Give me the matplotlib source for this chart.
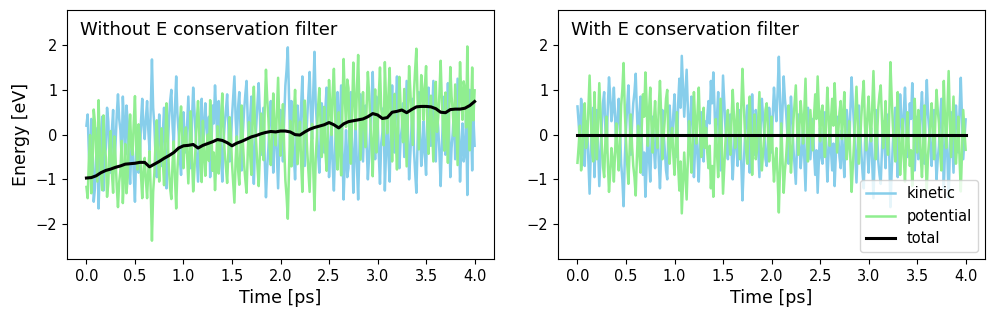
import numpy as np
import matplotlib
matplotlib.use('Agg')
import matplotlib.pyplot as plt

# time grid of the noisy traces (ps) and of the total energy trace
time = np.linspace(0.0, 4.0, 321)
time_total = np.linspace(0.0, 4.0, 81)

# Without E conservation filter
kinetic_raw = [
    0.20, 0.45, -0.40, -0.95, 0.35, -0.20, -1.50, -1.20, -0.55, 0.15, -1.65, -0.70, 0.05, 0.40, -1.25, -0.55,
    -0.30, 0.60, 0.30, -0.45, -0.85, 0.10, 0.55, -0.70, -0.20, 0.45, 0.90, 0.35, 0.10, -0.55, 0.85, 0.25,
    -0.45, 0.65, 0.30, -0.60, -1.10, -0.35, -0.20, -0.90, -1.50, -0.40, 0.15, -0.85, -0.60, 0.30, 0.80, 0.20,
    -0.10, 0.35, 0.75, 0.10, -0.35, 0.55, 1.68, 0.60, 0.20, -0.50, -0.95, -0.15, 0.45, -0.25, -0.70, 0.05,
    0.60, -0.35, -1.20, -0.40, 0.30, 0.75, 1.00, 0.20, -0.25, 0.60, 1.30, 0.45, 0.05, -0.55, -0.90, -0.20,
    0.50, -0.15, -0.40, 0.25, 0.85, 0.10, -0.75, 0.30, 1.05, 0.55, 0.00, -0.60, -1.05, -0.35, 0.40, 0.80,
    -0.55, 0.20, 0.70, 0.15, -0.20, 0.40, -0.95, -0.30, 0.65, 0.25, 1.10, 0.50, -0.30, 0.75, 0.45, -0.50,
    -1.05, -0.20, 0.25, 0.55, 0.90, 0.20, -0.60, -0.25, 0.40, 0.85, 1.30, 0.35, -0.15, 0.60, 0.95, 0.15,
    -0.80, 0.05, 0.55, 0.90, 1.20, 0.30, -0.35, 0.40, 0.85, -0.40, -1.10, -0.25, 0.20, 0.70, 1.15, 0.45,
    -0.45, 0.30, 0.60, -0.55, -1.40, -0.75, -0.30, 0.35, 0.75, 0.10, -0.85, -0.10, 0.30, -0.45, -1.20, -0.20,
    0.55, 0.05, -0.60, 0.35, 1.10, 1.45, 1.95, 0.80, -0.25, 0.75, 0.40, -0.45, -1.00, -0.20, 0.65, 0.15,
    -0.30, 0.65, 1.30, 0.20, -0.70, -0.15, 0.45, 0.90, 1.40, 0.50, -0.10, 0.95, 1.85, 0.70, 0.20, -0.45,
    -0.85, -0.10, 0.70, 0.25, -0.40, 0.60, 1.05, 0.15, -0.95, -0.40, 0.25, -0.70, -1.25, -0.30, 0.50, 0.95,
    -0.35, 0.45, 1.10, -0.30, -1.45, -0.60, 0.10, -0.95, -0.75, 0.40, 0.95, -0.20, -1.30, -0.45, 0.20, -0.70,
    -1.45, -0.35, 0.90, 0.15, -0.60, 0.20, 0.65, -0.25, -1.00, -0.50, 0.10, 0.70, 1.40, 0.30, -0.55, 0.85,
    0.40, -0.45, -1.10, -0.20, 0.05, 0.60, -1.25, -0.35, 0.35, -0.50, -1.05, 0.25, 1.10, 0.15, -0.40, 0.55,
    1.30, 0.25, -0.75, -0.10, 0.15, 0.70, -0.50, 0.35, 1.20, 0.05, -1.00, -0.45, 0.20, 0.80, -0.35, -0.85,
    -1.30, -0.20, 0.95, 0.10, -0.70, -0.35, 0.30, -0.45, -0.90, 0.40, 1.05, 0.30, -0.25, 0.45, 1.20, 0.20,
    -0.60, 0.50, 0.15, -0.40, -1.15, -0.25, 0.40, 0.85, -0.45, 0.30, 1.15, 0.10, -0.95, -0.30, 0.05, 0.60,
    -0.55, 0.35, 1.25, 0.10, -1.05, -0.30, 0.25, -0.60, -0.40, 0.45, -1.35, 0.20, 1.00, 0.25, -0.80, 0.40,
    -0.25,
]
potential_raw = [
    -1.17, -1.42, -0.57, -0.01, -1.31, -0.75, 0.56, 0.27, -0.37, -1.05, 0.77, -0.17, -0.90, -1.24, 0.43, -0.26,
    -0.50, -1.39, -1.09, -0.33, 0.08, -0.86, -1.30, -0.04, -0.53, -1.17, -1.62, -1.06, -0.80, -0.14, -1.53, -0.92,
    -0.21, -1.31, -0.96, -0.05, 0.45, -0.30, -0.45, 0.26, 0.86, -0.24, -0.78, 0.23, -0.02, -0.92, -1.42, -0.82,
    -0.52, -1.00, -1.42, -0.80, -0.37, -1.26, -2.37, -1.28, -0.86, -0.15, 0.32, -0.47, -1.05, -0.33, 0.14, -0.60,
    -1.13, -0.17, 0.70, -0.09, -0.77, -1.20, -1.44, -0.62, -0.15, -0.98, -1.65, -0.78, -0.35, 0.26, 0.63, -0.06,
    -0.75, -0.10, 0.16, -0.49, -1.09, -0.34, 0.52, -0.53, -1.27, -0.79, -0.26, 0.32, 0.75, 0.07, -0.67, -1.06,
    0.31, -0.43, -0.92, -0.36, 0.00, -0.59, 0.77, 0.13, -0.81, -0.40, -1.24, -0.62, 0.19, -0.87, -0.57, 0.38,
    0.92, 0.06, -0.41, -0.72, -1.08, -0.40, 0.39, 0.02, -0.65, -1.09, -1.52, -0.56, -0.04, -0.78, -1.12, -0.31,
    0.65, -0.19, -0.68, -1.01, -1.30, -0.39, 0.28, -0.46, -0.90, 0.36, 1.07, 0.22, -0.22, -0.71, -1.15, -0.44,
    0.47, -0.27, -0.57, 0.59, 1.45, 0.81, 0.36, -0.29, -0.68, -0.03, 0.92, 0.16, -0.24, 0.52, 1.27, 0.28,
    -0.47, 0.03, 0.68, -0.27, -1.02, -1.38, -1.88, -0.74, 0.31, -0.71, -0.37, 0.47, 1.00, 0.20, -0.66, -0.16,
    0.29, -0.64, -1.28, -0.16, 0.76, 0.23, -0.36, -0.80, -1.28, -0.37, 0.24, -0.80, -1.69, -0.53, -0.03, 0.63,
    1.04, 0.30, -0.50, -0.04, 0.62, -0.37, -0.81, 0.11, 1.22, 0.66, -0.01, 0.93, 1.47, 0.50, -0.32, -0.78,
    0.50, -0.28, -0.91, 0.52, 1.69, 0.85, 0.17, 1.23, 1.04, -0.11, -0.65, 0.51, 1.61, 0.77, 0.12, 1.03,
    1.78, 0.69, -0.56, 0.20, 0.95, 0.16, -0.28, 0.64, 1.40, 0.92, 0.34, -0.25, -0.93, 0.16, 1.01, -0.40,
    0.04, 0.87, 1.50, 0.58, 0.31, -0.24, 1.62, 0.73, 0.03, 0.91, 1.49, 0.22, -0.60, 0.36, 0.91, -0.04,
    -0.78, 0.28, 1.29, 0.64, 0.40, -0.17, 1.02, 0.16, -0.71, 0.46, 1.53, 0.99, 0.36, -0.23, 0.94, 1.46,
    1.92, 0.82, -0.33, 0.53, 1.33, 0.98, 0.33, 1.08, 1.53, 0.23, -0.43, 0.32, 0.87, 0.16, -0.60, 0.39,
    1.18, 0.06, 0.39, 0.92, 1.65, 0.75, 0.10, -0.36, 0.94, 0.21, -0.63, 0.44, 1.51, 0.86, 0.52, -0.03,
    1.12, 0.22, -0.68, 0.47, 1.62, 0.88, 0.33, 1.19, 0.99, 0.16, 1.97, 0.44, -0.35, 0.42, 1.50, 0.32,
    0.99,
]
total_raw = [
    -0.97, -0.96, -0.92, -0.85, -0.80, -0.77, -0.73, -0.70, -0.66, -0.65,
    -0.64, -0.62, -0.62, -0.72, -0.66, -0.60, -0.53, -0.47, -0.40, -0.30,
    -0.25, -0.24, -0.22, -0.30, -0.24, -0.20, -0.16, -0.11, -0.13, -0.18,
    -0.25, -0.19, -0.15, -0.10, -0.05, -0.02, 0.02, 0.05, 0.07, 0.06,
    0.08, 0.08, 0.06, 0.00, -0.01, 0.06, 0.12, 0.16, 0.19, 0.22,
    0.27, 0.22, 0.15, 0.24, 0.29, 0.31, 0.33, 0.35, 0.40, 0.47,
    0.44, 0.36, 0.38, 0.50, 0.52, 0.55, 0.49, 0.56, 0.62, 0.63,
    0.63, 0.62, 0.58, 0.50, 0.49, 0.56, 0.57, 0.57, 0.59, 0.65,
    0.74,
]

# With E conservation filter
kinetic_filt = [
    0.63, 0.25, -0.20, 0.80, 0.45, -0.35, -0.70, 0.30, 0.15, -0.60, -1.32, -0.40, 0.35, 0.60, -0.95, -0.10,
    0.55, -0.30, -1.15, -0.45, 0.20, 0.70, 0.95, 0.15, -0.40, 0.60, 1.28, 0.85, 0.30, 0.55, 1.05, 0.40,
    -0.25, 0.35, 0.80, 0.20, -0.65, -1.00, -1.60, -0.55, 0.10, 0.65, 1.10, 0.30, -0.45, 0.25, 0.70, 0.95,
    1.36, 0.50, -0.20, 0.45, 0.85, -0.15, -0.90, -0.40, -1.39, -0.70, 0.25, -0.55, -1.05, -0.20, 0.40, -0.30,
    -0.75, -0.10, 0.30, -0.60, -1.20, -0.45, 0.55, 0.05, -0.35, -0.80, -1.00, 0.20, 0.65, 0.10, -0.15, 0.45,
    0.90, 0.20, -0.50, 0.70, 1.25, 0.60, 1.76, 1.05, 0.40, 0.95, 1.45, 0.55, -0.30, 0.35, 0.85, 0.15,
    -0.95, -0.30, 0.20, -0.50, -1.05, -0.20, 0.50, 0.05, -0.60, 0.30, -0.15, 0.40, 0.75, 0.25, 1.20, 0.70,
    1.39, 0.60, -0.35, 0.40, 0.95, 0.10, -0.80, 0.30, 1.32, 0.75, 0.15, -0.25, -0.55, 0.10, 0.45, -0.35,
    -1.00, -0.40, 0.30, -0.25, -0.70, 0.05, 0.55, -0.60, -1.47, -0.75, -0.10, 0.35, 0.65, -0.20, -0.85, 0.05,
    0.90, 0.15, -0.45, 0.55, 0.35, -0.30, -0.95, 0.20, 0.80, 0.40, 0.05, -0.55, -0.70, -0.15, 0.60, 0.25,
    -0.40, 0.45, 1.05, 0.60, 0.30, 0.95, 1.74, 0.70, -0.25, 0.55, 1.30, 0.80, 0.50, 0.05, -0.65, 0.20,
    0.85, 0.35, -0.30, -0.70, -1.10, -0.25, 0.45, -0.20, -0.75, -0.40, 0.20, -0.55, -1.25, -0.15, 0.60, -0.05,
    -0.55, -0.10, 0.35, -0.40, -0.90, -0.35, -1.30, -0.60, 0.15, -0.50, -0.65, 0.05, 0.50, -0.30, -1.05, -0.45,
    0.25, -0.35, -0.80, -0.20, -1.15, -0.45, 0.40, -0.05, -0.50, -0.75, 0.10, -0.40, -0.95, 0.05, 0.55, 0.20,
    -0.30, 0.55, 1.28, 0.70, 0.20, -0.45, -1.07, -0.30, 0.65, 0.15, -0.40, -0.85, -1.20, -0.20, 0.35, -0.40,
    -0.85, -0.30, 0.15, -0.65, -1.42, -0.50, 0.55, 0.05, -0.60, -0.90, -1.10, -0.35, 0.30, -0.20, -0.75, 0.10,
    0.45, -0.40, -1.62, -0.85, -0.20, 0.25, 0.60, -0.30, -0.95, 0.05, 0.90, 0.35, -0.35, 0.50, 1.05, 0.30,
    -0.50, 0.20, 0.70, 0.35, 1.15, 0.45, -0.80, -0.15, 0.40, -0.55, -0.30, 0.50, 0.95, 0.25, -0.65, 0.55,
    1.22, 0.45, 0.10, -0.35, -0.70, 0.05, 0.55, -0.30, -1.00, -0.55, -0.25, 0.40, 0.80, -0.15, -1.20, -0.35,
    0.30, -0.55, -1.42, -0.35, 0.50, -0.20, -0.85, 0.10, 0.65, 0.20, -0.40, 0.55, 1.27, 0.40, -0.55, -0.10,
    0.34,
]
potential_filt = [
    -0.63, -0.25, 0.20, -0.80, -0.45, 0.35, 0.70, -0.30, -0.15, 0.60, 1.32, 0.40, -0.35, -0.60, 0.95, 0.10,
    -0.55, 0.30, 1.15, 0.45, -0.20, -0.70, -0.95, -0.15, 0.40, -0.60, -1.28, -0.85, -0.30, -0.55, -1.05, -0.40,
    0.25, -0.35, -0.80, -0.20, 0.65, 1.00, 1.60, 0.55, -0.10, -0.65, -1.10, -0.30, 0.45, -0.25, -0.70, -0.95,
    -1.36, -0.50, 0.20, -0.45, -0.85, 0.15, 0.90, 0.40, 1.39, 0.70, -0.25, 0.55, 1.05, 0.20, -0.40, 0.30,
    0.75, 0.10, -0.30, 0.60, 1.20, 0.45, -0.55, -0.05, 0.35, 0.80, 1.00, -0.20, -0.65, -0.10, 0.15, -0.45,
    -0.90, -0.20, 0.50, -0.70, -1.25, -0.60, -1.76, -1.05, -0.40, -0.95, -1.45, -0.55, 0.30, -0.35, -0.85, -0.15,
    0.95, 0.30, -0.20, 0.50, 1.05, 0.20, -0.50, -0.05, 0.60, -0.30, 0.15, -0.40, -0.75, -0.25, -1.20, -0.70,
    -1.39, -0.60, 0.35, -0.40, -0.95, -0.10, 0.80, -0.30, -1.32, -0.75, -0.15, 0.25, 0.55, -0.10, -0.45, 0.35,
    1.00, 0.40, -0.30, 0.25, 0.70, -0.05, -0.55, 0.60, 1.47, 0.75, 0.10, -0.35, -0.65, 0.20, 0.85, -0.05,
    -0.90, -0.15, 0.45, -0.55, -0.35, 0.30, 0.95, -0.20, -0.80, -0.40, -0.05, 0.55, 0.70, 0.15, -0.60, -0.25,
    0.40, -0.45, -1.05, -0.60, -0.30, -0.95, -1.74, -0.70, 0.25, -0.55, -1.30, -0.80, -0.50, -0.05, 0.65, -0.20,
    -0.85, -0.35, 0.30, 0.70, 1.10, 0.25, -0.45, 0.20, 0.75, 0.40, -0.20, 0.55, 1.25, 0.15, -0.60, 0.05,
    0.55, 0.10, -0.35, 0.40, 0.90, 0.35, 1.30, 0.60, -0.15, 0.50, 0.65, -0.05, -0.50, 0.30, 1.05, 0.45,
    -0.25, 0.35, 0.80, 0.20, 1.15, 0.45, -0.40, 0.05, 0.50, 0.75, -0.10, 0.40, 0.95, -0.05, -0.55, -0.20,
    0.30, -0.55, -1.28, -0.70, -0.20, 0.45, 1.07, 0.30, -0.65, -0.15, 0.40, 0.85, 1.20, 0.20, -0.35, 0.40,
    0.85, 0.30, -0.15, 0.65, 1.42, 0.50, -0.55, -0.05, 0.60, 0.90, 1.10, 0.35, -0.30, 0.20, 0.75, -0.10,
    -0.45, 0.40, 1.62, 0.85, 0.20, -0.25, -0.60, 0.30, 0.95, -0.05, -0.90, -0.35, 0.35, -0.50, -1.05, -0.30,
    0.50, -0.20, -0.70, -0.35, -1.15, -0.45, 0.80, 0.15, -0.40, 0.55, 0.30, -0.50, -0.95, -0.25, 0.65, -0.55,
    -1.22, -0.45, -0.10, 0.35, 0.70, -0.05, -0.55, 0.30, 1.00, 0.55, 0.25, -0.40, -0.80, 0.15, 1.20, 0.35,
    -0.30, 0.55, 1.42, 0.35, -0.50, 0.20, 0.85, -0.10, -0.65, -0.20, 0.40, -0.55, -1.27, -0.40, 0.55, 0.10,
    -0.34,
]
total_filt = [0.0] * len(time_total)

panels = [
    ('Without E conservation filter', kinetic_raw, potential_raw, total_raw),
    ('With E conservation filter', kinetic_filt, potential_filt, total_filt),
]

plt.rcParams['xtick.labelsize'] = 10.5
plt.rcParams['ytick.labelsize'] = 10.5

fig, axes = plt.subplots(1, 2, figsize=(9.96, 3.19), dpi=100)
fig.subplots_adjust(left=0.0673, right=0.989, bottom=0.188, top=0.968, wspace=0.15)

for ax, (label, kin, pot, tot) in zip(axes, panels):
    ax.plot(time, kin, color='skyblue', lw=1.8, label='kinetic')
    ax.plot(time, pot, color='lightgreen', lw=1.8, label='potential')
    ax.plot(time_total, tot, color='k', lw=2.2, label='total')
    ax.text(0.03, 0.955, label, transform=ax.transAxes, va='top', ha='left', fontsize=13)
    ax.set_ylim(-2.78, 2.78)
    ax.set_xlabel('Time [ps]', fontsize=12.5)

axes[0].set_ylabel('Energy [eV]', fontsize=12.5)
axes[1].legend(loc='lower right', fontsize=10.5)

fig.savefig('out.png', dpi=100)
